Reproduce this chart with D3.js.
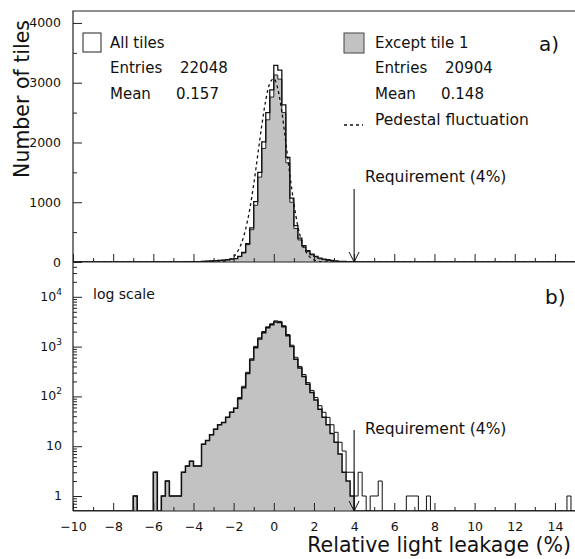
<!DOCTYPE html>
<html><head><meta charset="utf-8">
<script src="https://cdn.jsdelivr.net/npm/d3@7"></script>
<style>
body{margin:0;background:#fff}
text{font-family:"DejaVu Sans",sans-serif;fill:#111}
</style>
</head><body>
<svg id="c" width="575" height="559"></svg>
<script>
// ---------------- data ----------------
const binStart = -10, binWidth = 0.2, nBins = 125;
// [lower bin edge, entries] for non-empty bins
const allTilesBins = [
 [-7.0,1],[-6.0,3],[-5.6,1],[-5.4,2],[-5.2,1],[-5.0,1],[-4.8,1],[-4.6,3],[-4.4,4],[-4.2,5],[-4.0,4],[-3.8,4],
 [-3.6,11],[-3.4,13],[-3.2,17],[-3.0,22],[-2.8,27],[-2.6,30],[-2.4,38],[-2.2,48],[-2.0,58],[-1.8,95],
 [-1.6,160],[-1.4,305],[-1.2,570],[-1.0,1010],[-0.8,1500],[-0.6,2010],[-0.4,2500],[-0.2,2880],
 [0.0,3290],[0.2,3210],[0.4,2630],[0.6,1750],[0.8,1070],[1.0,610],[1.2,400],[1.4,275],[1.6,190],
 [1.8,132],[2.0,95],[2.2,65],[2.4,48],[2.6,38],[2.8,27],[3.0,19],[3.2,12],[3.4,8],[3.6,3],[3.8,3],
 [4.0,1],[4.2,3],[4.4,1],[4.8,1],[5.0,1],[5.2,2],[6.6,1],[6.8,1],[7.0,1],[7.6,1],[14.6,1]
];
const exceptTile1Bins = [
 [-7.0,1],[-6.0,3],[-5.6,1],[-5.4,2],[-5.2,1],[-5.0,1],[-4.8,1],[-4.6,3],[-4.4,4],[-4.2,5],[-4.0,4],[-3.8,4],
 [-3.6,11],[-3.4,13],[-3.2,17],[-3.0,22],[-2.8,27],[-2.6,30],[-2.4,38],[-2.2,48],[-2.0,58],[-1.8,90],
 [-1.6,150],[-1.4,290],[-1.2,540],[-1.0,950],[-0.8,1420],[-0.6,1900],[-0.4,2380],[-0.2,2760],
 [0.0,3130],[0.2,3060],[0.4,2500],[0.6,1660],[0.8,1000],[1.0,560],[1.2,370],[1.4,250],[1.6,175],
 [1.8,120],[2.0,85],[2.2,55],[2.4,38],[2.6,27],[2.8,18],[3.0,12],[3.2,7],[3.4,3],[3.6,2],[3.8,1]
];
// pedestal fluctuation (dashed curve)
const pedestalX = [-10,-2.8,-2.6,-2.4,-2.2,-2.0,-1.8,-1.6,-1.4,-1.2,-1.0,-0.8,-0.6,-0.4,-0.2,0.0,0.2,0.4,0.6,0.8,1.0,1.2,1.4,1.6,1.8,2.0,2.2,2.4,2.6,15];
const pedestalY = [0,0,7,18,42,89,176,323,553,880,1300,1787,2281,2709,2990,3067,2899,2514,1999,1457,975,598,336,174,82,36,14,5,0,0];
const xTickValues = [-10,-8,-6,-4,-2,0,2,4,6,8,10,12,14];
const xMinorValues = [-9,-7,-5,-3,-1,1,3,5,7,9,11,13];
const topTickValues = [0,1000,2000,3000,4000];
const topMinorValues = [500,1500,2500,3500];
const logTickValues = [1,10,100,1000,10000];
const logTickLabels = [["1",""],["10",""],["10","2"],["10","3"],["10","4"]];
const requirement = 4;
const legendAll = {title:"All tiles", entries:"22048", mean:"0.157"};
const legendExcept = {title:"Except tile 1", entries:"20904", mean:"0.148"};

// ---------------- layout ----------------
const L = 73, R = 575, T = 11, MID = 262, B = 511;
const x = d3.scaleLinear([-10, 15], [L, R]);
const yTop = d3.scaleLinear([0, 4200], [MID, T]);
const yLog = d3.scaleLog([0.5, 5e4], [B, MID]);
const GRAY = "#c2c2c2";
const TICKFONT = "Liberation Sans, Arial, sans-serif";
const FS = 15;

const svg = d3.select("#c");
const defs = svg.append("defs");
defs.append("clipPath").attr("id","clipTop").append("rect").attr("x",L).attr("y",T).attr("width",R-L).attr("height",MID-T);
defs.append("clipPath").attr("id","clipBot").append("rect").attr("x",L).attr("y",MID).attr("width",R-L).attr("height",B-MID);

function fullBins(pairs){
  const a = new Array(nBins).fill(0);
  pairs.forEach(([lo,c]) => { a[Math.round((lo-binStart)/binWidth)] = c; });
  const pts = a.map((c,i) => [binStart + i*binWidth, c]);
  pts.push([binStart + nBins*binWidth, a[nBins-1]]);
  return pts;
}
const allPts = fullBins(allTilesBins);
const excPts = fullBins(exceptTile1Bins);

// ---------- top panel ----------
const gTop = svg.append("g").attr("clip-path","url(#clipTop)");
const areaTop = d3.area().curve(d3.curveStepAfter).x(d=>x(d[0])).y0(yTop(0)).y1(d=>yTop(d[1]));
const lineTop = d3.line().curve(d3.curveStepAfter).x(d=>x(d[0])).y(d=>yTop(d[1]));
gTop.append("path").attr("d",areaTop(allPts)).attr("fill","#fff");
gTop.append("path").attr("d",areaTop(excPts)).attr("fill",GRAY);
gTop.append("path").attr("d",lineTop(excPts)).attr("fill","none").attr("stroke","#222").attr("stroke-width",1);
gTop.append("path").attr("d",lineTop(allPts)).attr("fill","none").attr("stroke","#111").attr("stroke-width",1.3);
const pedLine = d3.line().curve(d3.curveMonotoneX).x(d=>x(d[0])).y(d=>yTop(d[1]));
gTop.append("path").attr("d",pedLine(pedestalX.map((v,i)=>[v,pedestalY[i]])))
  .attr("fill","none").attr("stroke","#111").attr("stroke-width",1.3).attr("stroke-dasharray","3,3");

// ---------- bottom panel ----------
const gBot = svg.append("g").attr("clip-path","url(#clipBot)");
const yl = v => yLog(Math.max(v,0.5));
const areaBot = d3.area().curve(d3.curveStepAfter).x(d=>x(d[0])).y0(B).y1(d=>yl(d[1]));
const lineBot = d3.line().curve(d3.curveStepAfter).x(d=>x(d[0])).y(d=>yl(d[1]));
gBot.append("path").attr("d",areaBot(excPts)).attr("fill",GRAY);
gBot.append("path").attr("d",lineBot(allPts)).attr("fill","none").attr("stroke","#111").attr("stroke-width",1);
gBot.append("path").attr("d",lineBot(excPts)).attr("fill","none").attr("stroke","#111").attr("stroke-width",1.5);

// ---------- axes ----------
function styleAxis(g){ g.select(".domain").remove(); g.selectAll("line").attr("stroke","#222"); g.selectAll("text").attr("font-size",12.5).attr("fill","#111").attr("font-family",TICKFONT); }
svg.append("g").attr("transform",`translate(${L},0)`)
  .call(d3.axisLeft(yTop).tickValues(topTickValues).tickSizeInner(-9).tickSizeOuter(0).tickPadding(12).tickFormat(d3.format("d"))).call(styleAxis);
svg.append("g").attr("transform",`translate(${L},0)`)
  .call(d3.axisLeft(yTop).tickValues(topMinorValues).tickSizeInner(-4).tickSizeOuter(0).tickFormat("")).call(styleAxis);
// top panel x ticks
svg.append("g").attr("transform",`translate(0,${MID})`)
  .call(d3.axisBottom(x).tickValues(xTickValues).tickSizeInner(-8).tickSizeOuter(0).tickFormat("")).call(styleAxis);
svg.append("g").attr("transform",`translate(0,${MID})`)
  .call(d3.axisBottom(x).tickValues(xMinorValues).tickSizeInner(-4).tickSizeOuter(0).tickFormat("")).call(styleAxis);
// bottom panel x axis
svg.append("g").attr("transform",`translate(0,${B})`)
  .call(d3.axisBottom(x).tickValues(xTickValues).tickSizeInner(-8).tickSizeOuter(0).tickPadding(11)).call(styleAxis);
svg.append("g").attr("transform",`translate(0,${B})`)
  .call(d3.axisBottom(x).tickValues(xMinorValues).tickSizeInner(-4).tickSizeOuter(0).tickFormat("")).call(styleAxis);
// log axis
svg.append("g").attr("transform",`translate(${L},0)`)
  .call(d3.axisLeft(yLog).tickValues(logTickValues).tickSizeInner(-9).tickSizeOuter(0).tickFormat("")).call(styleAxis);
const logMinor = [];
[0.1,1,10,100,1000,10000].forEach(d=>{ for(let m=2;m<=9;m++){ const v=m*d; if(v>0.5 && v<5e4) logMinor.push(v);} });
svg.append("g").attr("transform",`translate(${L},0)`)
  .call(d3.axisLeft(yLog).tickValues(logMinor).tickSizeInner(-4).tickSizeOuter(0).tickFormat("")).call(styleAxis);
const logLab = svg.append("g").selectAll("text").data(logTickValues).join("text")
  .attr("x", L-11).attr("y", d=>yLog(d)+4).attr("text-anchor","end").attr("font-size",12.5).attr("font-family",TICKFONT);
logLab.each(function(d,i){
  const t = d3.select(this);
  const [base, exp] = logTickLabels[i];
  if(exp){
    t.append("tspan").text(base);
    t.append("tspan").text(exp).attr("font-size",9).attr("dy",-6);
  } else t.text(base);
});

// frame
svg.append("path").attr("d",`M${L},${B}V${T}H${R+2}M${L},${MID}H${R+2}M${L},${B}H${R+2}`)
  .attr("fill","none").attr("stroke","#222").attr("stroke-width",1.2);

// axis titles
svg.append("text").attr("transform","translate(29,99) rotate(-90)").attr("text-anchor","middle")
  .attr("font-size",20.5).text("Number of tiles");
svg.append("text").attr("x",571).attr("y",552).attr("text-anchor","end").attr("font-size",20.5)
  .text("Relative light leakage (%)");

// legend
svg.append("rect").attr("x",83).attr("y",33).attr("width",18).attr("height",19).attr("fill","#fff").attr("stroke","#222");
svg.append("text").attr("x",110).attr("y",48).attr("font-size",FS).text(legendAll.title);
svg.append("text").attr("x",110).attr("y",73).attr("font-size",FS).text("Entries");
svg.append("text").attr("x",180).attr("y",73).attr("font-size",FS).text(legendAll.entries);
svg.append("text").attr("x",110).attr("y",99).attr("font-size",FS).text("Mean");
svg.append("text").attr("x",176).attr("y",99).attr("font-size",FS).text(legendAll.mean);
svg.append("rect").attr("x",344).attr("y",33).attr("width",20).attr("height",20).attr("fill",GRAY).attr("stroke","#444");
svg.append("text").attr("x",375).attr("y",48).attr("font-size",FS).text(legendExcept.title);
svg.append("text").attr("x",375).attr("y",73).attr("font-size",FS).text("Entries");
svg.append("text").attr("x",445).attr("y",73).attr("font-size",FS).text(legendExcept.entries);
svg.append("text").attr("x",375).attr("y",99).attr("font-size",FS).text("Mean");
svg.append("text").attr("x",441).attr("y",99).attr("font-size",FS).text(legendExcept.mean);
svg.append("line").attr("x1",344).attr("x2",363).attr("y1",125).attr("y2",125).attr("stroke","#111").attr("stroke-width",1.3).attr("stroke-dasharray","3,3");
svg.append("text").attr("x",375).attr("y",125).attr("font-size",FS+0.5).text("Pedestal fluctuation");
svg.append("text").attr("x",539).attr("y",51).attr("font-size",20).text("a)");
svg.append("text").attr("x",93).attr("y",299).attr("font-size",14).text("log scale");
svg.append("text").attr("x",545).attr("y",304).attr("font-size",20).text("b)");

// requirement arrows
function reqArrow(yTopPx, yBase, labelY){
  const xa = x(requirement);
  svg.append("line").attr("x1",xa).attr("x2",xa).attr("y1",yTopPx).attr("y2",yBase).attr("stroke","#111").attr("stroke-width",1.1);
  svg.append("path").attr("d",`M${xa-5},${yBase-10}L${xa},${yBase}L${xa+5},${yBase-10}`).attr("fill","none").attr("stroke","#111").attr("stroke-width",1);
  svg.append("text").attr("x",xa+11).attr("y",labelY).attr("font-size",FS+0.5).text("Requirement (4%)");
}
reqArrow(189, MID, 182);
reqArrow(430, B, 434);
</script>
</body></html>
